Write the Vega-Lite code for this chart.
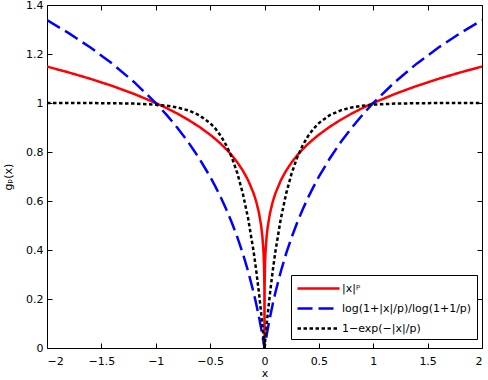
{
  "$schema": "https://vega.github.io/schema/vega-lite/v6.json",
  "width": 435,
  "height": 343,
  "autosize": {"type": "none"},
  "padding": {"left": 47, "top": 5, "right": 6, "bottom": 32},
  "background": "white",
  "config": {
    "view": {"stroke": "black", "strokeWidth": 1},
    "font": "DejaVu Sans",
    "axis": {
      "grid": false,
      "domain": false,
      "tickColor": "black",
      "tickSize": -5,
      "labelFont": "DejaVu Sans",
      "labelFontSize": 11,
      "labelColor": "black",
      "titleFont": "DejaVu Sans",
      "titleFontSize": 11,
      "titleFontWeight": "normal",
      "titleColor": "black"
    }
  },
  "data": {
    "values": [
      {"x": -2.0, "a": 1.1487, "b": 1.3383, "c": 1.0000},
      {"x": -1.8, "a": 1.1247, "b": 1.2851, "c": 0.9999},
      {"x": -1.6, "a": 1.0986, "b": 1.2263, "c": 0.9997},
      {"x": -1.4, "a": 1.0696, "b": 1.1606, "c": 0.9991},
      {"x": -1.2, "a": 1.0371, "b": 1.0860, "c": 0.9975},
      {"x": -1.0, "a": 1.0000, "b": 1.0000, "c": 0.9933},
      {"x": -0.9, "a": 0.9791, "b": 0.9514, "c": 0.9889},
      {"x": -0.8, "a": 0.9564, "b": 0.8982, "c": 0.9817},
      {"x": -0.7, "a": 0.9311, "b": 0.8394, "c": 0.9698},
      {"x": -0.6, "a": 0.9029, "b": 0.7737, "c": 0.9502},
      {"x": -0.5, "a": 0.8706, "b": 0.6992, "c": 0.9179},
      {"x": -0.45, "a": 0.8524, "b": 0.6578, "c": 0.8946},
      {"x": -0.4, "a": 0.8326, "b": 0.6131, "c": 0.8647},
      {"x": -0.35, "a": 0.8106, "b": 0.5646, "c": 0.8262},
      {"x": -0.3, "a": 0.7860, "b": 0.5114, "c": 0.7769},
      {"x": -0.25, "a": 0.7579, "b": 0.4526, "c": 0.7135},
      {"x": -0.2, "a": 0.7248, "b": 0.3869, "c": 0.6321},
      {"x": -0.15, "a": 0.6843, "b": 0.3123, "c": 0.5276},
      {"x": -0.1, "a": 0.6310, "b": 0.2263, "c": 0.3935},
      {"x": -0.075, "a": 0.5957, "b": 0.1777, "c": 0.3127},
      {"x": -0.05, "a": 0.5493, "b": 0.1245, "c": 0.2212},
      {"x": -0.03, "a": 0.4959, "b": 0.0780, "c": 0.1393},
      {"x": -0.02, "a": 0.4573, "b": 0.0532, "c": 0.0952},
      {"x": -0.01, "a": 0.3981, "b": 0.0272, "c": 0.0488},
      {"x": -0.005, "a": 0.3466, "b": 0.0138, "c": 0.0247},
      {"x": -0.001, "a": 0.2512, "b": 0.0028, "c": 0.0050},
      {"x": 0, "a": 0, "b": 0, "c": 0},
      {"x": 0.001, "a": 0.2512, "b": 0.0028, "c": 0.0050},
      {"x": 0.005, "a": 0.3466, "b": 0.0138, "c": 0.0247},
      {"x": 0.01, "a": 0.3981, "b": 0.0272, "c": 0.0488},
      {"x": 0.02, "a": 0.4573, "b": 0.0532, "c": 0.0952},
      {"x": 0.03, "a": 0.4959, "b": 0.0780, "c": 0.1393},
      {"x": 0.05, "a": 0.5493, "b": 0.1245, "c": 0.2212},
      {"x": 0.075, "a": 0.5957, "b": 0.1777, "c": 0.3127},
      {"x": 0.1, "a": 0.6310, "b": 0.2263, "c": 0.3935},
      {"x": 0.15, "a": 0.6843, "b": 0.3123, "c": 0.5276},
      {"x": 0.2, "a": 0.7248, "b": 0.3869, "c": 0.6321},
      {"x": 0.25, "a": 0.7579, "b": 0.4526, "c": 0.7135},
      {"x": 0.3, "a": 0.7860, "b": 0.5114, "c": 0.7769},
      {"x": 0.35, "a": 0.8106, "b": 0.5646, "c": 0.8262},
      {"x": 0.4, "a": 0.8326, "b": 0.6131, "c": 0.8647},
      {"x": 0.45, "a": 0.8524, "b": 0.6578, "c": 0.8946},
      {"x": 0.5, "a": 0.8706, "b": 0.6992, "c": 0.9179},
      {"x": 0.6, "a": 0.9029, "b": 0.7737, "c": 0.9502},
      {"x": 0.7, "a": 0.9311, "b": 0.8394, "c": 0.9698},
      {"x": 0.8, "a": 0.9564, "b": 0.8982, "c": 0.9817},
      {"x": 0.9, "a": 0.9791, "b": 0.9514, "c": 0.9889},
      {"x": 1.0, "a": 1.0000, "b": 1.0000, "c": 0.9933},
      {"x": 1.2, "a": 1.0371, "b": 1.0860, "c": 0.9975},
      {"x": 1.4, "a": 1.0696, "b": 1.1606, "c": 0.9991},
      {"x": 1.6, "a": 1.0986, "b": 1.2263, "c": 0.9997},
      {"x": 1.8, "a": 1.1247, "b": 1.2851, "c": 0.9999},
      {"x": 2.0, "a": 1.1487, "b": 1.3383, "c": 1.0000}
    ]
  },
  "transform": [{"fold": ["a", "b", "c"], "as": ["s", "y"]}],
  "layer": [
    {
      "mark": {"type": "line", "strokeWidth": 2.5, "strokeCap": "butt", "clip": true},
      "encoding": {
        "x": {
          "field": "x", "type": "quantitative",
          "scale": {"domain": [-2, 2], "nice": false, "zero": false},
          "axis": {"title": "x", "values": [-2, -1.5, -1, -0.5, 0, 0.5, 1, 1.5, 2], "format": ".1~f", "labelPadding": 12, "titlePadding": 1}
        },
        "y": {
          "field": "y", "type": "quantitative",
          "scale": {"domain": [0, 1.4], "nice": false},
          "axis": {"title": "gₚ(x)", "values": [0, 0.2, 0.4, 0.6, 0.8, 1, 1.2, 1.4], "format": ".1~f", "labelPadding": 9, "titlePadding": 12}
        },
        "color": {
          "field": "s", "type": "nominal",
          "scale": {"domain": ["a", "b", "c"], "range": ["#ff0000", "#0000ff", "#000000"]},
          "legend": {
            "title": null,
            "orient": "none",
            "legendX": 244,
            "legendY": 270,
            "strokeColor": "black",
            "fillColor": "white",
            "padding": 5,
            "rowPadding": 6,
            "symbolType": "M-1,0H5",
            "symbolSize": 196,
            "symbolStrokeWidth": 2.5,
            "labelFont": "DejaVu Sans",
            "labelFontSize": 11,
            "labelColor": "black",
            "labelOffset": 29,
            "labelExpr": "datum.value == 'a' ? '|x|ᵖ' : datum.value == 'b' ? 'log(1+|x|/p)/log(1+1/p)' : '1−exp(−|x|/p)'"
          }
        },
        "strokeDash": {
          "field": "s", "type": "nominal",
          "scale": {"domain": ["a", "b", "c"], "range": [[1, 0], [15, 6], [3.5, 2.5]]},
          "legend": {
            "title": null,
            "orient": "none",
            "legendX": 244,
            "legendY": 270,
            "padding": 5,
            "rowPadding": 6,
            "symbolType": "M-1,0H5",
            "symbolSize": 196,
            "symbolStrokeWidth": 2.5,
            "labelOffset": 29,
            "labelExpr": "datum.value == 'a' ? '|x|ᵖ' : datum.value == 'b' ? 'log(1+|x|/p)/log(1+1/p)' : '1−exp(−|x|/p)'"
          }
        }
      }
    },
    {
      "mark": {"type": "point", "opacity": 0},
      "encoding": {
        "x": {
          "field": "x", "type": "quantitative",
          "axis": {"orient": "top", "title": null, "labels": false, "values": [-2, -1.5, -1, -0.5, 0, 0.5, 1, 1.5, 2]}
        },
        "y": {
          "field": "y", "type": "quantitative",
          "axis": {"orient": "right", "title": null, "labels": false, "values": [0, 0.2, 0.4, 0.6, 0.8, 1, 1.2, 1.4]}
        }
      }
    }
  ],
  "resolve": {"axis": {"x": "independent", "y": "independent"}}
}
